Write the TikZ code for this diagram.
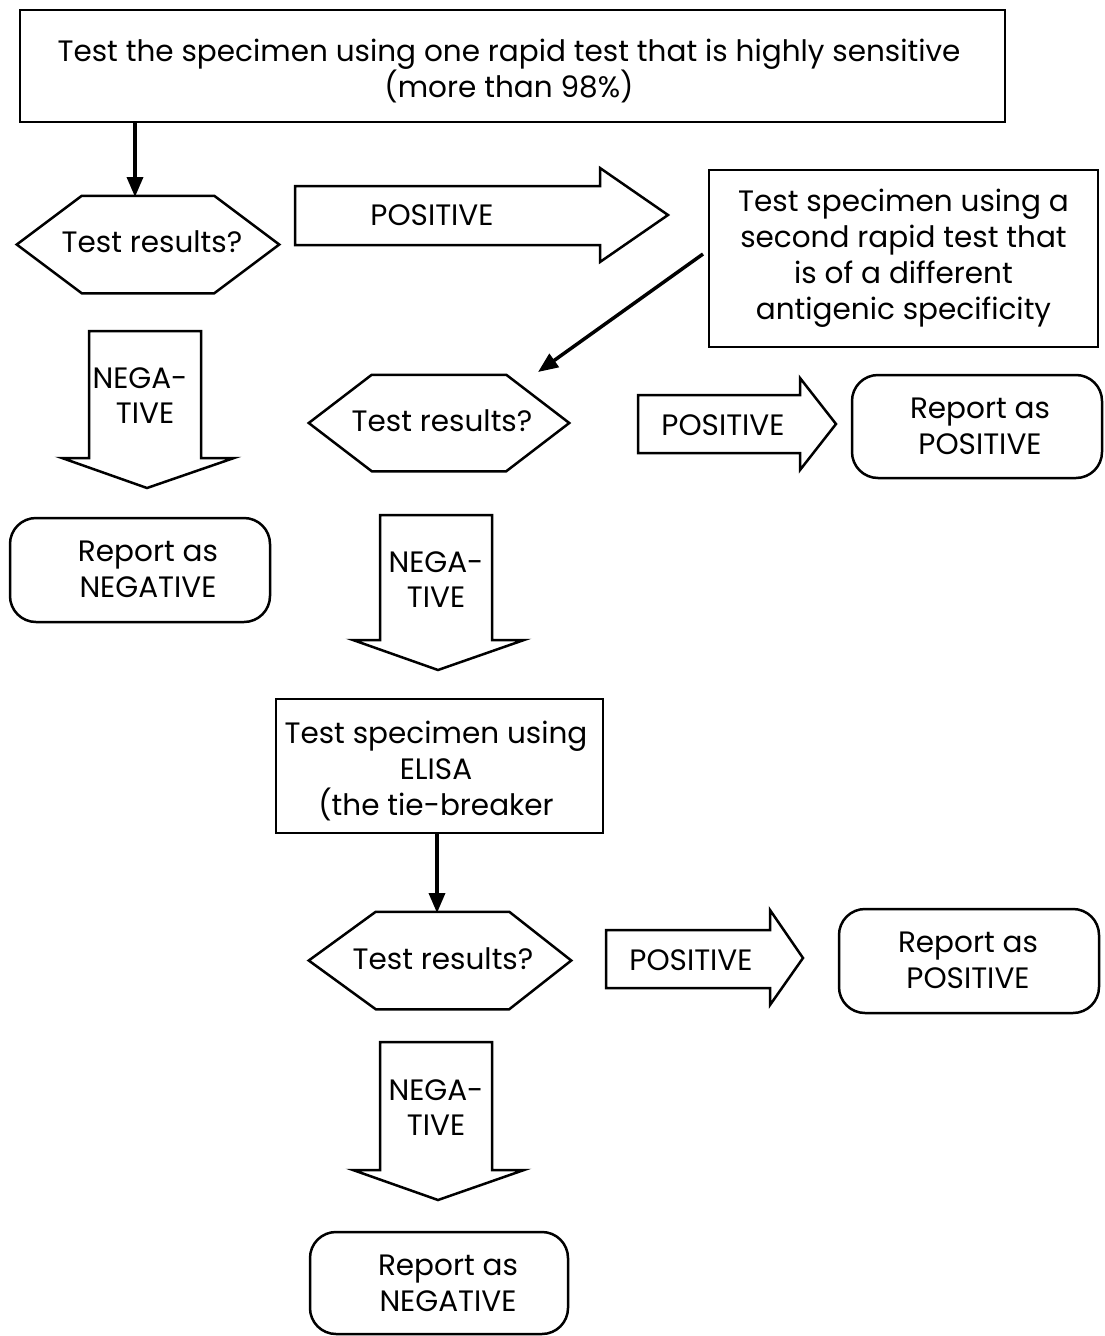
\documentclass[tikz,border=0pt]{standalone}
\usepackage{fontspec}
\setmainfont{Poppins}
\usetikzlibrary{arrows.meta,calc}
\newcommand\dtxt{\fontsize{29.5}{36}\selectfont}
\begin{document}
\begin{tikzpicture}[x=1pt,y=-1pt,
  line width=2.5pt, line join=miter,
  box/.style={draw, rectangle, inner sep=0pt, align=center, font=\dtxt},
  report/.style={draw, rectangle, rounded corners=26pt, inner sep=0pt, align=center, font=\dtxt},
  hexnode/.style={rectangle, inner sep=0pt, align=center, font=\dtxt},
  lbl/.style={inner sep=0pt, font=\dtxt},
  conn/.style={line width=3.5pt, -{Triangle[length=20pt,width=16pt]}},
  blockarrow/.style={draw, line width=2.5pt, fill=white}
]
\useasboundingbox (0,0) rectangle (1104,1336);

% top box
\node[box, minimum width=985pt, minimum height=112pt] (top) at (512.5,66) {};
\node[lbl, align=center] (toptxt) at (509,71)
  {Test the specimen using one rapid test that is highly sensitive\\(more than 98\%)};

% hexagon 1
\node[hexnode, minimum width=260pt, minimum height=95pt] (h1) at (148,244.5) {};
\draw (h1.west) -- ([xshift=65pt]h1.north west) -- ([xshift=-65pt]h1.north east) -- (h1.east)
  -- ([xshift=-65pt]h1.south east) -- ([xshift=65pt]h1.south west) -- cycle;
\node[lbl] (h1t) at (152,242) {Test results?};

% box 2
\node[box, minimum width=389pt, minimum height=177pt] (b2) at (903.5,258.5)
  {Test specimen using a\\second rapid test that\\is of a different\\antigenic specificity};

% hexagon 2
\node[hexnode, minimum width=258pt, minimum height=94pt] (h2) at (439,423) {};
\draw (h2.west) -- ([xshift=63pt]h2.north west) -- ([xshift=-63pt]h2.north east) -- (h2.east)
  -- ([xshift=-63pt]h2.south east) -- ([xshift=63pt]h2.south west) -- cycle;
\node[lbl] (h2t) at (442,421) {Test results?};

% reports
\node[report, minimum width=250pt, minimum height=103pt] (rp1) at (977,426.5) {};
\node[lbl, align=center] (rp1t) at (980,426) {Report as\\POSITIVE};
\node[report, minimum width=260pt, minimum height=104pt] (rn1) at (140,570) {};
\node[lbl, align=center] (rn1t) at (148,569) {Report as\\NEGATIVE};

% ELISA box
\node[box, minimum width=327pt, minimum height=134pt] (el) at (439.5,766) {};
\node[lbl, align=center] (elt) at (436,771) {Test specimen using\\ELISA\\(the tie-breaker};

% hexagon 3
\node[hexnode, minimum width=260pt, minimum height=95pt] (h3) at (440,960.5) {};
\draw (h3.west) -- ([xshift=67pt]h3.north west) -- ([xshift=-62pt]h3.north east) -- (h3.east)
  -- ([xshift=-62pt]h3.south east) -- ([xshift=67pt]h3.south west) -- cycle;
\node[lbl] (h3t) at (443,959) {Test results?};

\node[report, minimum width=260pt, minimum height=104pt] (rp2) at (969,961) {};
\node[lbl, align=center] (rp2t) at (968,960) {Report as\\POSITIVE};
\node[report, minimum width=258pt, minimum height=102pt] (rn2) at (439,1283) {};
\node[lbl, align=center] (rn2t) at (448,1283) {Report as\\NEGATIVE};

% block arrows
\draw[blockarrow] (295,186) -- (600,186) -- (600,168) -- (668,215) -- (600,262) -- (600,245) -- (295,245) -- cycle;
\node[lbl] (p1) at (432,215) {POSITIVE};

\draw[blockarrow] (89,331) -- (201,331) -- (201,458) -- (234,458) -- (147,488) -- (62,458) -- (89,458) -- cycle;
\node[lbl] (n1a) at (140,378) {NEGA-};
\node[lbl] (n1b) at (145,413) {TIVE};

\draw[blockarrow] (638,395) -- (800,395) -- (800,378) -- (836,424) -- (800,470) -- (800,453) -- (638,453) -- cycle;
\node[lbl] (p2) at (723,425) {POSITIVE};

\draw[blockarrow] (380,515) -- (492,515) -- (492,640) -- (524,640) -- (438,670) -- (353,640) -- (380,640) -- cycle;
\node[lbl] (n2a) at (436,562) {NEGA-};
\node[lbl] (n2b) at (436,597) {TIVE};

\draw[blockarrow] (606,930) -- (770,930) -- (770,910) -- (803,958) -- (770,1005) -- (770,988) -- (606,988) -- cycle;
\node[lbl] (p3) at (691,960) {POSITIVE};

\draw[blockarrow] (380,1042) -- (492,1042) -- (492,1170) -- (524,1170) -- (438,1200) -- (353,1170) -- (380,1170) -- cycle;
\node[lbl] (n3a) at (436,1090) {NEGA-};
\node[lbl] (n3b) at (436,1125) {TIVE};

% connectors
\coordinate (ta) at (135,197);
\draw[conn] (top.south -| ta) -- (ta);
\coordinate (da) at (703,254);
\coordinate (db) at (538,372);
\draw[conn] (da) -- (db);
\draw[conn] (el.south -| 437,0) -- (437,913);
\end{tikzpicture}
\end{document}
